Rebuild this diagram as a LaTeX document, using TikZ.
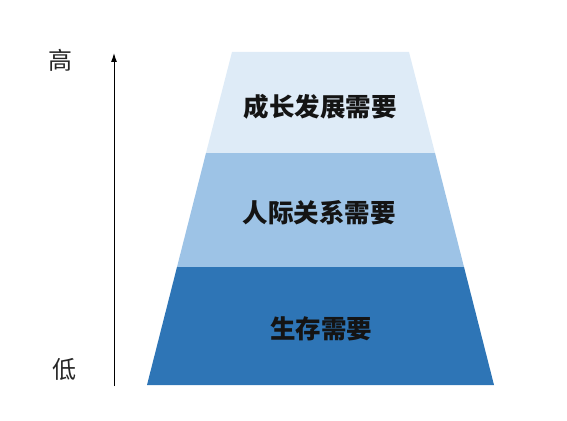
\documentclass[tikz,border=0pt]{standalone}
\usepackage{fontspec}
\usetikzlibrary{arrows.meta}
\newfontfamily\cjk{Noto Sans CJK SC}
\definecolor{layerTop}{HTML}{DEEBF7}
\definecolor{layerMid}{HTML}{9DC3E6}
\definecolor{layerBot}{HTML}{2E75B6}
\begin{document}
\begin{tikzpicture}[x=1pt,y=-1pt,
  lvltext/.style={font=\cjk\bfseries\fontsize{25.5}{30}\selectfont, text=black!92, inner sep=0pt},
  axistext/.style={font=\cjk\fontsize{24}{28}\selectfont, text=black!85, inner sep=0pt},
  axisarrow/.style={line width=1pt, -{Latex[length=9pt,width=6pt]}}]
\useasboundingbox (0,0) rectangle (567,420);
% layers
\fill[layerTop] (232,52) -- (409,52) -- (435,153) -- (206,153) -- cycle;
\fill[layerMid] (206,153) -- (435,153) -- (464,267) -- (177,267) -- cycle;
\fill[layerBot] (177,267) -- (464,267) -- (494,385) -- (147,385) -- cycle;
% texts
\node[lvltext] (growth) at (320,107) {成长发展需要};
\node[lvltext] (relate) at (319,213) {人际关系需要};
\node[lvltext] (exist) at (321,329) {生存需要};
% axis
\coordinate (axbot) at (114,386);
\coordinate (axtop) at (114,53);
\draw[axisarrow] (axbot) -- (axtop);
\node[axistext] (high) at (60,60) {高};
\node[axistext] (low) at (64,369) {低};
\end{tikzpicture}
\end{document}
